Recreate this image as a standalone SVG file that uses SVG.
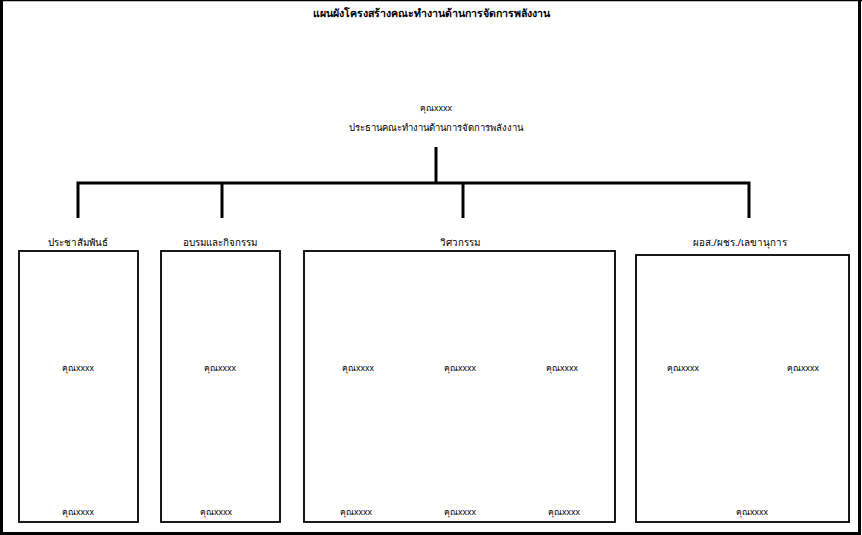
<svg xmlns="http://www.w3.org/2000/svg" width="862" height="535" viewBox="0 0 862 535">
<style>
.t{font-family:"Noto Sans","DejaVu Sans",sans-serif;fill:#000;text-anchor:middle}
.title{font-family:"Liberation Serif","Noto Serif",serif;font-weight:bold;font-size:10.6px;fill:#000;text-anchor:middle}
.hd{font-size:9.8px}
.sub{font-size:9.5px}
.nm{font-size:8.5px}
.box{fill:#fff;stroke:#000;stroke-width:1.8}
.con{fill:none;stroke:#000;stroke-width:3}
</style>
<rect width="862" height="535" fill="#fff"/>
<path d="M1.5 0 V533.5 H859.5 V0" fill="none" stroke="#000" stroke-width="3"/>
<line x1="0" y1="0.5" x2="862" y2="0.5" stroke="#000" stroke-width="1.5"/>
<text class="title" x="431" y="17">แผนผังโครงสร้างคณะทำงานด้านการจัดการพลังงาน</text>
<g id="chair">
<text class="t nm" x="436" y="111">คุณxxxx</text>
<text class="t sub" x="436" y="131">ประธานคณะทำงานด้านการจัดการพลังงาน</text>
</g>
<g id="connectors">
<path class="con" d="M436 147 V183"/>
<path class="con" d="M78 218 V183 H749 V218"/>
<path class="con" d="M222 183 V218"/>
<path class="con" d="M463 183 V218"/>
</g>
<g id="pr">
<text class="t hd" x="78" y="246">ประชาสัมพันธ์</text>
<rect class="box" x="19" y="251" width="119" height="271"/>
<text class="t nm" x="78" y="371">คุณxxxx</text>
<text class="t nm" x="78" y="515">คุณxxxx</text>
</g>
<g id="training">
<text class="t hd" x="220" y="246">อบรมและกิจกรรม</text>
<rect class="box" x="161" y="251" width="119" height="271"/>
<text class="t nm" x="220" y="371">คุณxxxx</text>
<text class="t nm" x="216" y="515">คุณxxxx</text>
</g>
<g id="engineering">
<text class="t hd" x="460" y="246">วิศวกรรม</text>
<rect class="box" x="304" y="251" width="311" height="271"/>
<text class="t nm" x="358" y="371">คุณxxxx</text>
<text class="t nm" x="460" y="371">คุณxxxx</text>
<text class="t nm" x="562" y="371">คุณxxxx</text>
<text class="t nm" x="356" y="515">คุณxxxx</text>
<text class="t nm" x="460" y="515">คุณxxxx</text>
<text class="t nm" x="564" y="515">คุณxxxx</text>
</g>
<g id="admin">
<text class="t hd" x="740" y="246">ผอส./ผชร./เลขานุการ</text>
<rect class="box" x="636" y="255" width="213" height="267"/>
<text class="t nm" x="683" y="371">คุณxxxx</text>
<text class="t nm" x="803" y="371">คุณxxxx</text>
<text class="t nm" x="752" y="515">คุณxxxx</text>
</g>
</svg>
